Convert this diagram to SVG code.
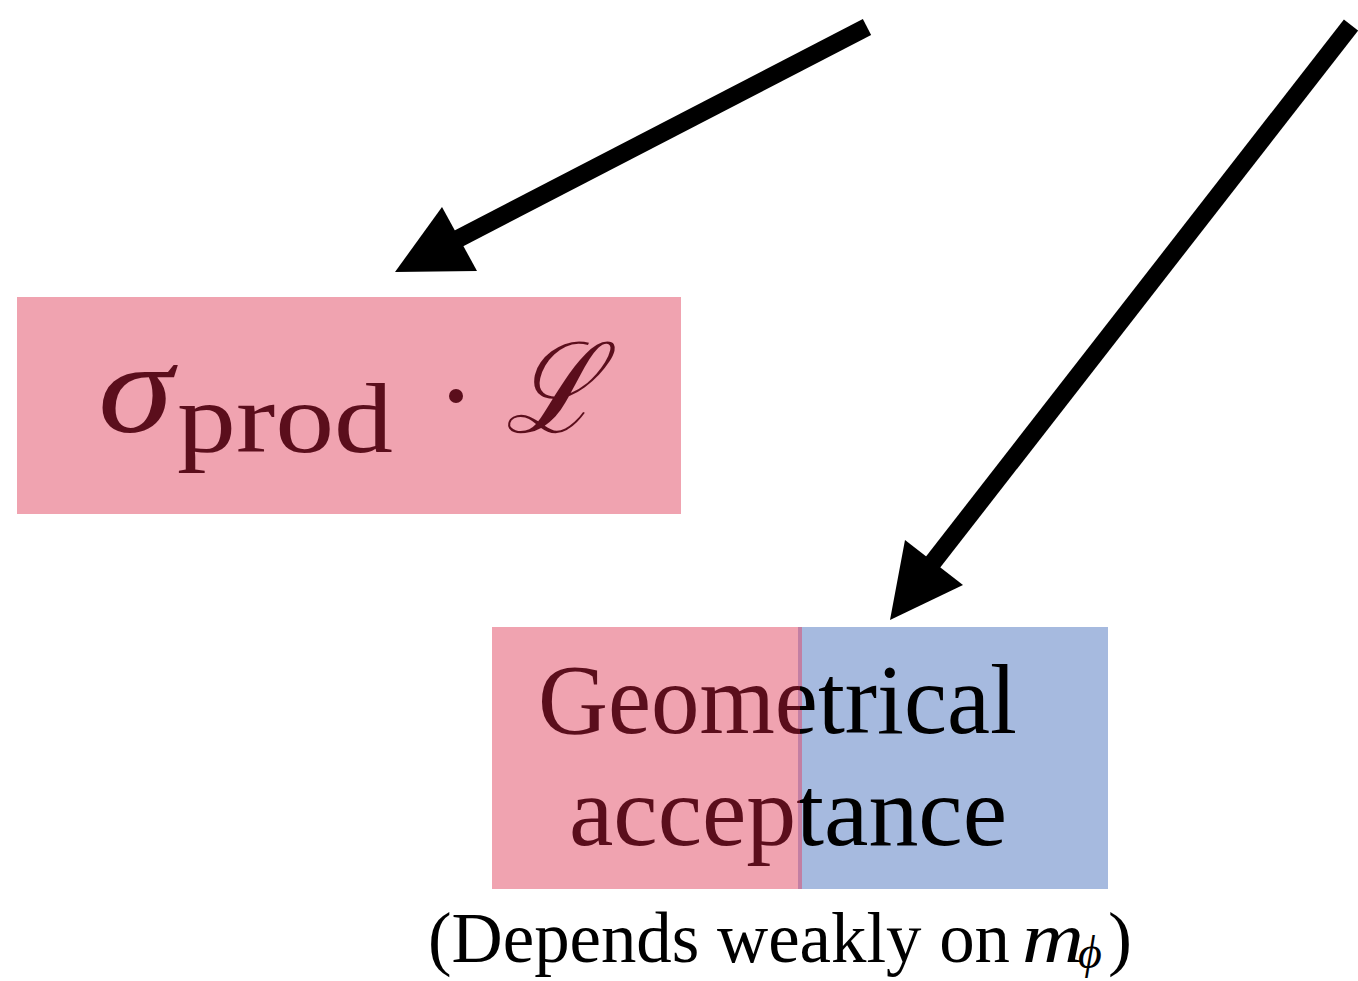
<svg xmlns="http://www.w3.org/2000/svg" width="1358" height="981" viewBox="0 0 1358 981">
<style>
.serif{font-family:"Liberation Serif","DejaVu Serif",serif}
.dark{fill:#5b0e1c}
.arrow{stroke:#000;stroke-width:18;fill:none}
</style>
<defs>
<clipPath id="leftc"><rect x="0" y="0" width="800" height="981"/></clipPath>
<clipPath id="rightc"><rect x="800" y="0" width="558" height="981"/></clipPath>
</defs>
<rect width="1358" height="981" fill="#fff"/>
<g id="connectors">
<line class="arrow" x1="867" y1="27" x2="450" y2="243"/>
<polygon points="442,207 395,272 477,271" fill="#000"/>
<line class="arrow" x1="1351" y1="25" x2="930" y2="566"/>
<polygon points="905,540 890,620 963,585" fill="#000"/>
</g>
<g id="node-sigma">
<rect x="17" y="297" width="664" height="217" fill="#f0a3b0"/>
<text class="serif dark" x="98" y="432" font-size="130" font-style="italic" textLength="75" lengthAdjust="spacingAndGlyphs">σ</text>
<text class="serif dark" x="177" y="452" font-size="100" textLength="216" lengthAdjust="spacingAndGlyphs">prod</text>
<circle cx="456" cy="396" r="7" fill="#5b0e1c"/>
<text class="serif dark" x="505" y="432" font-size="125" font-style="italic" textLength="94" lengthAdjust="spacingAndGlyphs">ℒ</text>
</g>
<g id="node-acceptance">
<rect x="492" y="627" width="308" height="262" fill="#f0a3b0"/>
<rect x="800" y="627" width="308" height="262" fill="#a6badf"/>
<rect x="798" y="627" width="4" height="262" fill="#c27fa3"/>
<g clip-path="url(#leftc)" class="serif dark" font-size="100">
<text x="538" y="733" textLength="479" lengthAdjust="spacingAndGlyphs">Geometrical</text>
<text x="569" y="845" textLength="438" lengthAdjust="spacingAndGlyphs">acceptance</text>
</g>
<g clip-path="url(#rightc)" class="serif" font-size="100" fill="#000">
<text x="538" y="733" textLength="479" lengthAdjust="spacingAndGlyphs">Geometrical</text>
<text x="569" y="845" textLength="438" lengthAdjust="spacingAndGlyphs">acceptance</text>
</g>
</g>
<g id="label-note" class="serif" fill="#000">
<text x="428" y="962" font-size="72" textLength="582" lengthAdjust="spacingAndGlyphs">(Depends weakly on</text>
<text x="1022" y="962" font-size="72" font-style="italic" textLength="62" lengthAdjust="spacingAndGlyphs">m</text>
<text x="1078" y="968" font-size="46" font-style="italic">ϕ</text>
<text x="1108" y="962" font-size="72">)</text>
</g>
</svg>
